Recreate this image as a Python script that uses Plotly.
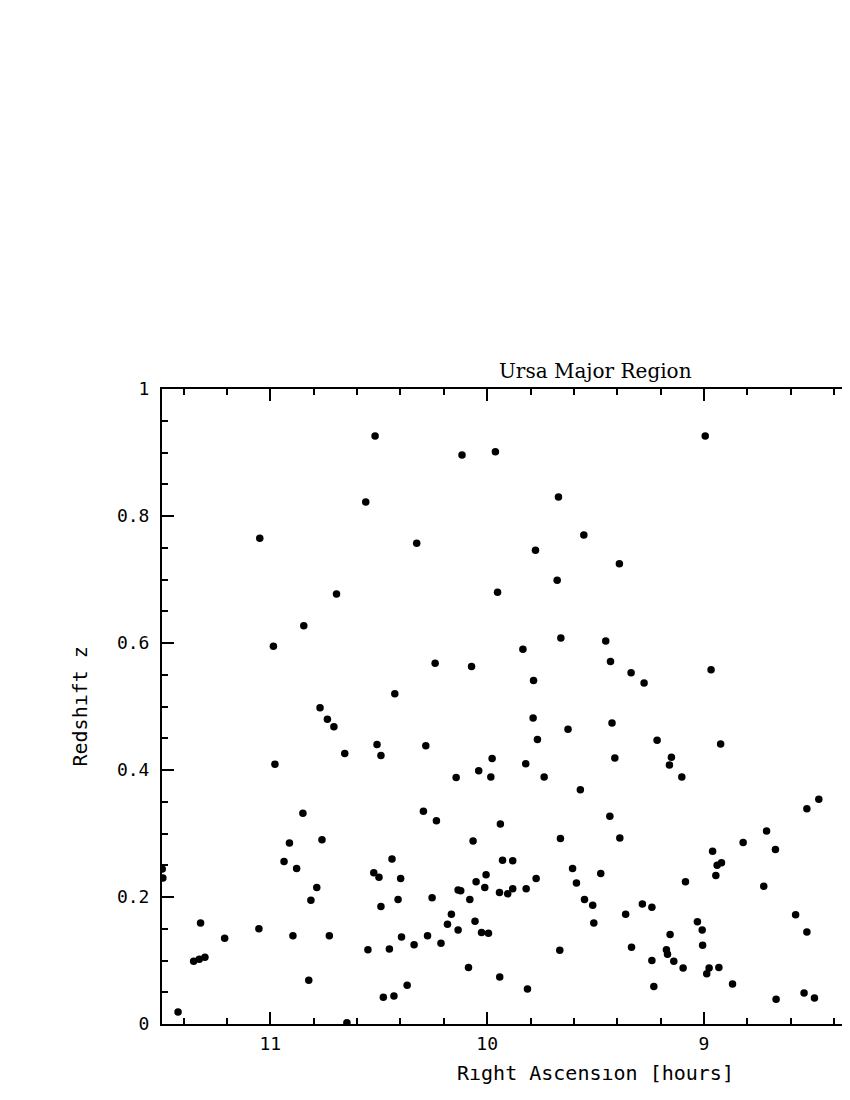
import plotly.graph_objects as go

# Right ascension [hours] and redshift z of each object
ra = [
    10.517, 10.560, 11.049, 10.695, 10.846, 10.986, 10.426, 10.771,
    10.116, 9.962, 9.671, 9.554, 10.325, 9.777, 9.390, 9.677, 9.952, 9.660,
    9.453, 9.835, 9.431, 10.240, 10.072, 9.786,
    8.994, 9.336, 9.276, 8.967,
    10.737, 10.707, 10.657, 10.508, 10.490, 10.979, 10.850, 10.912, 10.762,
    10.937, 10.879, 10.439, 11.499, 11.496, 10.523, 10.499, 10.786, 10.813,
    10.490, 11.322, 11.053, 11.211, 10.896, 10.728, 10.550, 10.451, 11.354,
    11.328, 11.302, 10.823, 10.479, 10.430, 11.426, 10.647,
    9.788, 9.627, 9.424, 10.283, 9.768, 9.977, 9.411, 10.039, 10.143, 9.983,
    9.822, 9.737, 9.570, 10.294, 10.234, 9.939, 9.434, 10.065, 9.662, 9.388,
    9.929, 9.882, 10.399, 10.005, 9.606, 10.051, 9.476, 9.774, 9.588, 10.134,
    10.122, 10.011, 9.943, 9.905, 9.882, 9.820, 10.411, 10.254, 10.080, 9.551,
    9.513, 10.165, 10.183, 10.056, 9.508, 10.134, 10.026, 9.994, 10.395,
    10.275, 10.337, 10.213, 9.665, 10.086, 9.942, 10.369, 9.814, 9.361,
    9.216, 8.923, 9.150, 9.159, 9.102, 8.470, 8.525, 8.711, 8.819, 8.670,
    8.960, 8.939, 8.919, 8.945, 9.085, 8.724, 8.328, 9.284, 9.240, 8.577,
    9.030, 9.008, 9.156, 8.525, 9.334, 9.006, 8.337, 9.173, 9.168, 9.240,
    9.139, 9.096, 8.976, 8.987, 8.931, 8.868, 9.231, 8.667, 8.538, 8.490,
]
redshift = [
    0.926, 0.822, 0.765, 0.677, 0.627, 0.595, 0.520, 0.498,
    0.896, 0.901, 0.830, 0.770, 0.757, 0.746, 0.725, 0.699, 0.680, 0.608,
    0.603, 0.590, 0.571, 0.568, 0.563, 0.541,
    0.926, 0.553, 0.537, 0.558,
    0.480, 0.468, 0.426, 0.440, 0.423, 0.409, 0.332, 0.285, 0.290,
    0.256, 0.245, 0.260, 0.244, 0.230, 0.238, 0.231, 0.215, 0.195,
    0.185, 0.159, 0.150, 0.135, 0.139, 0.139, 0.117, 0.118, 0.099,
    0.102, 0.105, 0.069, 0.042, 0.044, 0.019, 0.002,
    0.482, 0.464, 0.474, 0.438, 0.448, 0.418, 0.419, 0.399, 0.388, 0.389,
    0.410, 0.389, 0.369, 0.335, 0.320, 0.315, 0.327, 0.288, 0.292, 0.293,
    0.258, 0.257, 0.229, 0.235, 0.245, 0.224, 0.237, 0.229, 0.222, 0.211,
    0.210, 0.215, 0.207, 0.205, 0.213, 0.213, 0.196, 0.199, 0.196, 0.196,
    0.187, 0.173, 0.157, 0.162, 0.159, 0.148, 0.144, 0.143, 0.137,
    0.139, 0.125, 0.127, 0.116, 0.089, 0.074, 0.061, 0.055, 0.173,
    0.447, 0.441, 0.420, 0.408, 0.389, 0.354, 0.339, 0.304, 0.286, 0.275,
    0.272, 0.250, 0.254, 0.234, 0.224, 0.217, 0.221, 0.189, 0.184, 0.172,
    0.161, 0.148, 0.141, 0.145, 0.121, 0.124, 0.129, 0.117, 0.110, 0.100,
    0.099, 0.088, 0.088, 0.079, 0.089, 0.063, 0.059, 0.039, 0.049, 0.041,
]

title_text = "Ursa Major Region"
x_label = "R\u0131ght Ascens\u0131on [hours]"
y_label = "Redsh\u0131ft z"

MONO = "DejaVu Sans Mono"

fig = go.Figure()
fig.add_trace(go.Scatter(
    x=ra, y=redshift, mode="markers",
    marker=dict(color="black", size=7.5, line=dict(width=0)),
    showlegend=False, hoverinfo="x+y",
))

axis_common = dict(
    showgrid=False, zeroline=False, showline=True, linecolor="black",
    linewidth=2, ticks="inside", tickcolor="black", tickwidth=1.5,
    ticklen=12, tickfont=dict(family=MONO, size=18, color="black"),
)

# page body has an 8px default margin: the figure is sized to fit the window
fig.update_layout(
    width=834, height=1084,
    paper_bgcolor="white", plot_bgcolor="white",
    margin=dict(l=154, r=0, t=381, b=68),
    xaxis=dict(
        range=[11.5, 8.363], tick0=0, dtick=1, mirror="ticks",
        minor=dict(dtick=0.2, ticks="inside", ticklen=6, tickwidth=1.5,
                   tickcolor="black", showgrid=False),
        ticklabelstandoff=2,
        **axis_common,
    ),
    yaxis=dict(
        range=[0, 1], tick0=0, dtick=0.2, mirror=False,
        minor=dict(dtick=0.05, ticks="inside", ticklen=6, tickwidth=1.5,
                   tickcolor="black", showgrid=False),
        ticklabelstandoff=7,
        **axis_common,
    ),
    annotations=[
        dict(text=title_text, x=9.5, xref="x", y=1.028, yref="paper",
             xanchor="center", yanchor="middle", showarrow=False,
             font=dict(family="DejaVu Serif", size=20, color="black")),
        dict(text=x_label, x=9.5, xref="x", y=-0.077, yref="paper",
             xanchor="center", yanchor="middle", showarrow=False,
             font=dict(family=MONO, size=20, color="black")),
        dict(text=y_label, x=-(154 - 71) / 680, xref="paper", y=0.5,
             yref="paper", xanchor="center", yanchor="middle",
             textangle=-90, showarrow=False,
             font=dict(family=MONO, size=20, color="black")),
    ],
)

fig.write_html("out.html")
